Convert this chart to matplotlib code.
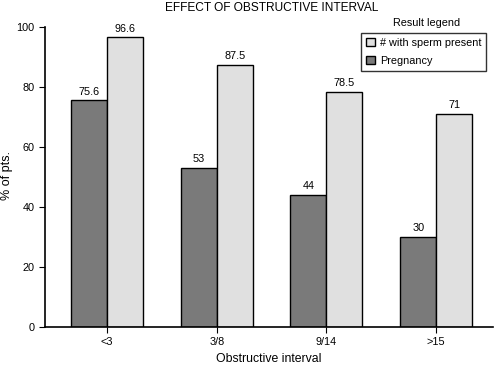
import matplotlib.pyplot as plt
import numpy as np

categories = ["<3", "3/8", "9/14", ">15"]
pregnancy = [75.6, 53, 44, 30]
sperm_present = [96.6, 87.5, 78.5, 71]
pregnancy_labels = ["75.6", "53", "44", "30"]
sperm_labels = ["96.6", "87.5", "78.5", "71"]

plt.rcParams['font.family'] = ['Liberation Sans', 'DejaVu Sans']

fig = plt.figure(figsize=(4.98, 3.65), dpi=100)
ax = fig.add_axes([0.0904, 0.104, 0.9, 0.822])

x = np.arange(len(categories))
w = 0.328
dark = "#7a7a7a"
light = "#e0e0e0"
b1 = ax.bar(x - w / 2, pregnancy, w, color=dark, edgecolor="black", linewidth=1, label="Pregnancy")
b2 = ax.bar(x + w / 2, sperm_present, w, color=light, edgecolor="black", linewidth=1, label="# with sperm present")

for rect, lab in zip(b1, pregnancy_labels):
    ax.text(rect.get_x() + rect.get_width() / 2, rect.get_height() + 1.2, lab, ha="center", va="bottom", fontsize=7.8)
for rect, lab in zip(b2, sperm_labels):
    ax.text(rect.get_x() + rect.get_width() / 2, rect.get_height() + 1.2, lab, ha="center", va="bottom", fontsize=7.8)

ax.set_xlim(-0.565, 3.52)
ax.set_ylim(0, 100)
ax.set_yticks([0, 20, 40, 60, 80, 100])
ax.set_xticks(x)
ax.set_xticklabels(categories)
ax.tick_params(labelsize=7.8, length=4, width=0.8)
ax.spines["top"].set_visible(False)
ax.spines["right"].set_visible(False)
ax.spines["left"].set_linewidth(1.2)
ax.spines["bottom"].set_linewidth(1.2)
ax.set_xlabel("Obstructive interval", fontsize=8.8, labelpad=4)

fig.text(0.014, 0.52, "% of pts.", rotation=90, ha="center", va="center", fontsize=9)
fig.text(0.545, 0.978, "EFFECT OF OBSTRUCTIVE INTERVAL", ha="center", va="center", fontsize=8.6)
fig.text(0.856, 0.937, "Result legend", ha="center", va="center", fontsize=7.8)
leg = ax.legend([b2, b1], ["# with sperm present", "Pregnancy"], loc="upper right",
                bbox_to_anchor=(0.985, 0.98), fontsize=7.8, frameon=True, fancybox=False,
                edgecolor="black", handlelength=0.8, handleheight=0.8, handletextpad=0.5,
                borderpad=0.45, labelspacing=0.75, borderaxespad=0)
leg.get_frame().set_linewidth(1)

fig.savefig("out.png", dpi=100)
